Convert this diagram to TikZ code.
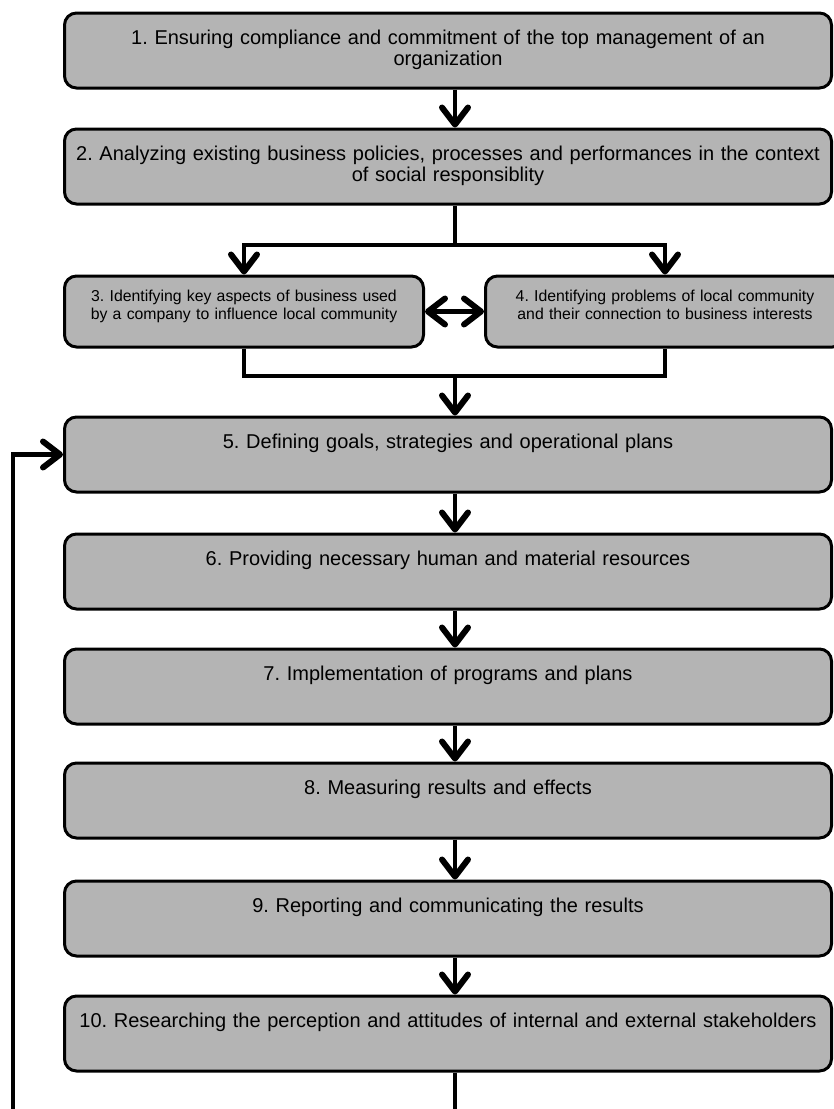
\documentclass[tikz,border=0pt]{standalone}
\usepackage{fontspec}
\setmainfont{Liberation Sans}
\usetikzlibrary{arrows.meta,calc}
\definecolor{stagegray}{RGB}{180,180,180}
\frenchspacing
\tikzset{
    stage/.style = {draw, line width=3pt, rounded corners=12pt, fill=stagegray,
        anchor=north, inner xsep=5pt, inner ysep=0pt,
        minimum width=767pt, text width=757pt, align=center,
        font=\fontsize{20}{21}\selectfont,
        text height=31pt, text depth=44pt},
    substage/.style = {stage, minimum width=359pt, text width=349pt,
        font=\fontsize{15.8}{18}\selectfont,
        text height=25.5pt, text depth=45.5pt},
    conn/.style = {draw, line width=4.5pt},
    flow/.style = {conn, -{Straight Barb[length=17pt,width=26pt,line width'=6pt,round]}},
    twoway/.style = {conn, {Straight Barb[length=17pt,width=26pt,line width'=6pt,round]}-{Straight Barb[length=17pt,width=26pt,line width'=6pt,round]}}
}
\begin{document}
\begin{tikzpicture}[x=1pt,y=-1pt]
    \useasboundingbox (0,0) rectangle (834,1109);
    \coordinate (spine) at (455,0);
    \node[stage] (s1) at (448,11.5) {1. Ensuring compliance and commitment of the top management of an\\organization};
    \node[stage] (s2) at (448,127.5) {2. Analyzing existing business policies, processes and performances in the context\\of social responsiblity};
    \node[substage] (s3) at (244,274.5) {3. Identifying key aspects of business used\\by a company to influence local community};
    \node[substage] (s4) at (665,274.5) {4. Identifying problems of local community\\and their connection to business interests};
    \node[stage] (s5) at (448,415.5) {5. Defining goals, strategies and operational plans};
    \node[stage] (s6) at (448,532.5) {6. Providing necessary human and material resources};
    \node[stage] (s7) at (448,647.5) {7. Implementation of programs and plans};
    \node[stage] (s8) at (448,761.5) {8. Measuring results and effects};
    \node[stage] (s9) at (448,879.5) {9. Reporting and communicating the results};
    \node[stage] (s10) at (448,994.5) {10. Researching the perception and attitudes of internal and external stakeholders};
    % split and merge around 3 and 4
    \coordinate (split) at (455,245);
    \coordinate (merge) at (455,376);
    \coordinate (exitfoot) at (455,1120);
    \coordinate (loopfoot) at (13,1120);
    \draw[flow] (s1.south -| spine) -- (s2.north -| spine);
    \draw[conn] (s2.south -| spine) -- (split);
    \draw[flow] (split) -| (s3.north);
    \draw[flow] (split) -| (s4.north);
    \draw[twoway] (s3.east) -- (s4.west);
    \draw[conn] (s3.south) |- (merge) -| (s4.south);
    \draw[flow] (merge) -- (s5.north -| spine);
    \draw[flow] (s5.south -| spine) -- (s6.north -| spine);
    \draw[flow] (s6.south -| spine) -- (s7.north -| spine);
    \draw[flow] (s7.south -| spine) -- (s8.north -| spine);
    \draw[flow] (s8.south -| spine) -- (s9.north -| spine);
    \draw[flow] (s9.south -| spine) -- (s10.north -| spine);
    \draw[conn] (s10.south -| spine) -- (exitfoot);
    % feedback to 5
    \draw[flow] (loopfoot) |- (s5.west);
\end{tikzpicture}
\end{document}
